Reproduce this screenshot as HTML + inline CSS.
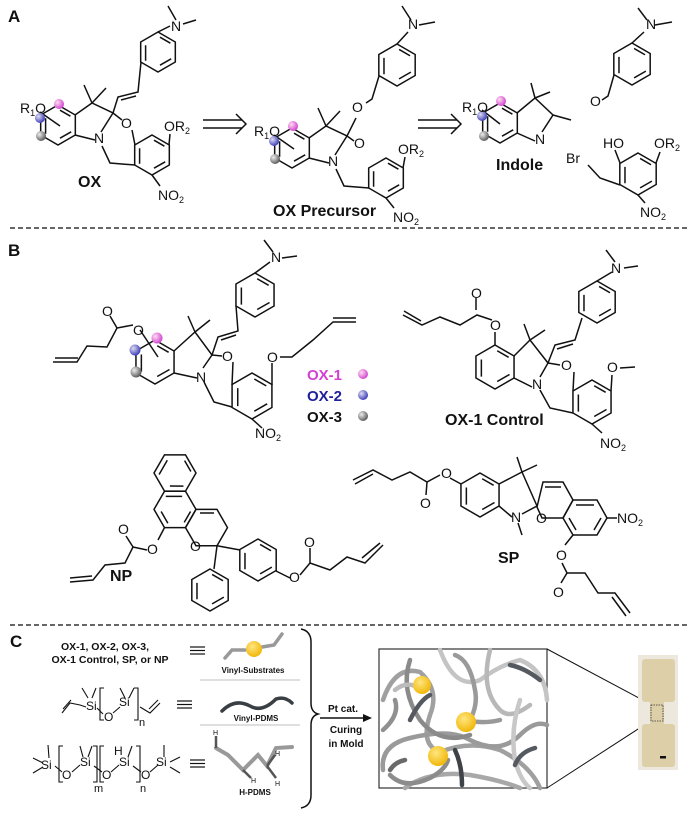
<!DOCTYPE html>
<html><head><meta charset="utf-8"><style>
html,body{margin:0;padding:0;background:#fff}
svg{display:block}
text{font-family:"Liberation Sans",Arial,sans-serif;fill:#111}
.b{font-weight:bold}
</style></head><body>
<svg width="700" height="819" viewBox="0 0 700 819" xmlns="http://www.w3.org/2000/svg">
<defs>
<polygon id="h" points="0,-1 .866,-.5 .866,.5 0,1 -.866,.5 -.866,-.5" fill="none" stroke="#111" stroke-width="1.5" vector-effect="non-scaling-stroke"/>
<g id="a"><use href="#h"/><path d="M.1,-.74 L.62,-.44 M.66,.34 L.1,.66 M-.62,.44 L-.62,-.34" fill="none" stroke="#111" stroke-width="1.5" vector-effect="non-scaling-stroke"/></g>
<radialGradient id="pk" cx=".35" cy=".35" r=".7"><stop offset="0" stop-color="#fde"/><stop offset="1" stop-color="#d040d0"/></radialGradient>
<radialGradient id="bl" cx=".35" cy=".35" r=".7"><stop offset="0" stop-color="#dde"/><stop offset="1" stop-color="#3838b8"/></radialGradient>
<radialGradient id="gy" cx=".35" cy=".35" r=".7"><stop offset="0" stop-color="#eee"/><stop offset="1" stop-color="#555"/></radialGradient>
<radialGradient id="yl" cx=".4" cy=".35" r=".7"><stop offset="0" stop-color="#ffe680"/><stop offset="1" stop-color="#f0b400"/></radialGradient>
</defs>
<g fill="none" stroke="#111" stroke-width="1.5">
<line x1="10" y1="228" x2="690" y2="228" stroke-dasharray="5,3" stroke="#333"/>
<line x1="10" y1="625" x2="690" y2="625" stroke-dasharray="5,3" stroke="#333"/>

<!-- A: OX -->
<use href="#a" transform="translate(58,125) scale(20)"/>
<polyline points="75,115 92,103 113,113 101,132"/><polyline points="95,140 75,135"/>
<line x1="92" y1="103" x2="84" y2="85"/><line x1="92" y1="103" x2="106" y2="88"/>
<line x1="40" y1="112" x2="60" y2="126"/>
<polyline points="113,113 118,97 138,92 141,62"/><line x1="121" y1="100" x2="136" y2="96"/>
<use href="#a" transform="translate(158,52) scale(20)"/>
<line x1="158" y1="32" x2="170" y2="26"/><line x1="176" y1="20" x2="168" y2="6"/><line x1="183" y1="24" x2="196" y2="20"/>
<line x1="113" y1="113" x2="122" y2="120"/><line x1="132" y1="130" x2="135" y2="145"/>
<use href="#a" transform="translate(152,155) scale(20)"/>
<polyline points="102,146 110,163 135,165"/>
<line x1="169" y1="145" x2="170" y2="134"/><line x1="152" y1="175" x2="160" y2="186"/>
<line x1="203" y1="120" x2="242" y2="120"/><line x1="203" y1="128" x2="242" y2="128"/><polyline points="236,114 246,124 236,134"/>

<!-- A: precursor -->
<use href="#a" transform="translate(292,148) scale(20)"/>
<polyline points="309,138 326,126 347,136 335,155"/><polyline points="329,163 309,158"/>
<line x1="326" y1="126" x2="318" y2="108"/><line x1="326" y1="126" x2="340" y2="111"/>
<line x1="347" y1="136" x2="356" y2="118"/>
<line x1="274" y1="135" x2="294" y2="149"/>
<line x1="347" y1="136" x2="354" y2="141"/>
<use href="#a" transform="translate(386,178) scale(20)"/>
<polyline points="336,169 344,186 369,188"/>
<line x1="403" y1="168" x2="405" y2="157"/><line x1="386" y1="198" x2="394" y2="208"/>
<use href="#a" transform="translate(397,65) scale(21)"/>
<polyline points="379,76 372,99 366,103"/>
<line x1="397" y1="44" x2="408" y2="32"/><line x1="411" y1="20" x2="402" y2="6"/><line x1="419" y1="25" x2="435" y2="22"/>
<line x1="418" y1="120" x2="457" y2="120"/><line x1="418" y1="128" x2="457" y2="128"/><polyline points="451,114 461,124 451,134"/>

<!-- A: indole -->
<use href="#a" transform="translate(500,123) scale(20)"/>
<polyline points="517,113 535,98 553,115 542,132"/><polyline points="535,141 517,133"/>
<line x1="535" y1="98" x2="531" y2="83"/><line x1="535" y1="98" x2="550" y2="92"/><line x1="553" y1="115" x2="571" y2="120"/>
<line x1="482" y1="110" x2="500" y2="124"/>
<use href="#a" transform="translate(632,64) scale(21)"/>
<polyline points="614,75 608,96 602,100"/>
<line x1="632" y1="43" x2="644" y2="32"/><line x1="647" y1="20" x2="638" y2="8"/><line x1="655" y1="25" x2="672" y2="22"/>
<use href="#a" transform="translate(638,174) scale(21)"/>
<polyline points="620,185 600,178 588,165"/>
<line x1="620" y1="163" x2="615" y2="150"/><line x1="656" y1="163" x2="660" y2="152"/><line x1="638" y1="195" x2="645" y2="203"/>

<!-- B: OX-1/2/3 -->
<use href="#a" transform="translate(155,362) scale(22)"/>
<polyline points="174,351 195,332 212,355 203,368"/><polyline points="197,378 174,373"/>
<line x1="195" y1="332" x2="188" y2="316"/><line x1="195" y1="332" x2="210" y2="320"/>
<line x1="140" y1="330" x2="158" y2="357"/>
<polyline points="133,325 117,328 107,347 87,346 77,362 53,362"/><line x1="117" y1="328" x2="110" y2="316"/><line x1="78" y1="358" x2="55" y2="358"/>
<polyline points="212,355 218,337 238,331 236,306"/><line x1="221" y1="340" x2="236" y2="335"/>
<use href="#a" transform="translate(255,295) scale(22)"/>
<line x1="255" y1="273" x2="270" y2="262"/><line x1="273" y1="252" x2="264" y2="240"/><line x1="282" y1="258" x2="297" y2="256"/>
<line x1="212" y1="355" x2="222" y2="356"/>
<use href="#a" transform="translate(252,396) scale(23)"/>
<line x1="233" y1="362" x2="232" y2="385"/>
<polyline points="204,382 214,402 232,407"/>
<polyline points="272,385 272,363"/><polyline points="280,357 292,357 313,340 333,322 356,322"/><line x1="333" y1="318" x2="356" y2="318"/>
<line x1="252" y1="419" x2="262" y2="428"/>

<!-- B: OX-1 Control -->
<use href="#a" transform="translate(495,367) scale(22)"/>
<line x1="495" y1="345" x2="495" y2="332"/>
<polyline points="492,320 477,315 460,325 440,317 422,325 403,315"/><line x1="476" y1="310" x2="476" y2="298"/><line x1="421" y1="321" x2="404" y2="311"/>
<polyline points="514,356 530,340 548,363 540,377"/><polyline points="532,387 514,378"/>
<line x1="530" y1="340" x2="524" y2="324"/><line x1="530" y1="340" x2="545" y2="330"/>
<polyline points="548,363 555,345 575,340 582,318"/><line x1="557" y1="349" x2="573" y2="344"/>
<use href="#a" transform="translate(597,302) scale(21)"/>
<line x1="597" y1="281" x2="612" y2="272"/><line x1="615" y1="262" x2="606" y2="250"/><line x1="624" y1="268" x2="638" y2="266"/>
<line x1="548" y1="363" x2="560" y2="365"/>
<use href="#a" transform="translate(592,402) scale(22)"/>
<line x1="574" y1="372" x2="573" y2="391"/>
<polyline points="540,390 550,408 573,413"/>
<polyline points="611,391 612,375"/><line x1="620" y1="368" x2="635" y2="367"/>
<line x1="592" y1="424" x2="602" y2="433"/>

<!-- NP -->
<use href="#a" transform="translate(175,473) rotate(30) scale(21)"/>
<use href="#a" transform="translate(175,509.4) rotate(90) scale(21)"/>
<use href="#h" transform="translate(206.5,527.6) rotate(30) scale(21)"/>
<line x1="200" y1="513" x2="214" y2="513"/>
<line x1="164.5" y1="527.6" x2="158" y2="540"/>
<polyline points="147,550 133,547 125,563 105,565 93,580 70,582"/><line x1="133" y1="547" x2="126" y2="536"/><line x1="92" y1="576" x2="70" y2="578"/>
<line x1="217" y1="545.8" x2="214" y2="569"/>
<use href="#a" transform="translate(210,590) scale(21)"/>
<line x1="217" y1="545.8" x2="240" y2="550"/>
<use href="#a" transform="translate(258,560) scale(21)"/>
<polyline points="276,571 290,578"/><polyline points="300,575 310,563 330,570 347,557 365,563 383,545"/><line x1="310" y1="563" x2="310" y2="548"/><line x1="362" y1="558" x2="380" y2="543"/>

<!-- SP -->
<use href="#a" transform="translate(480,495) scale(22)"/>
<polyline points="461,484 450,478"/>
<polyline points="440,475 427,482 410,472 392,480 373,470 353,480"/><line x1="427" y1="482" x2="426" y2="495"/><line x1="373" y1="474" x2="355" y2="484"/>
<polyline points="499,484 522,472 537,506 522,514"/><polyline points="512,517 499,506"/>
<line x1="522" y1="472" x2="517" y2="457"/><line x1="522" y1="472" x2="537" y2="465"/><line x1="518" y1="523" x2="522" y2="535"/>
<polygon points="537,507 543,482 563,482 573,500 563,518 542,518"/>
<line x1="545" y1="487" x2="561" y2="487"/>
<polygon points="573,500 597,500 607,518 597,535 573,535 563,518"/>
<line x1="576" y1="505" x2="594" y2="505"/><line x1="601" y1="518" x2="594" y2="530"/><line x1="576" y1="530" x2="569" y2="518"/>
<line x1="607" y1="518" x2="617" y2="518"/>
<polyline points="573,535 565,545"/><polyline points="562,563 567,573 585,573 598,593 615,593 630,613"/><line x1="567" y1="573" x2="561" y2="583"/><line x1="612" y1="597" x2="626" y2="616"/>
</g>

<circle cx="59" cy="104" r="5" fill="url(#pk)"/><circle cx="40" cy="118" r="5" fill="url(#bl)"/><circle cx="41" cy="136" r="5" fill="url(#gy)"/>
<circle cx="293" cy="126" r="5" fill="url(#pk)"/><circle cx="274" cy="141" r="5" fill="url(#bl)"/><circle cx="275" cy="159" r="5" fill="url(#gy)"/>
<circle cx="501" cy="101" r="5" fill="url(#pk)"/><circle cx="482" cy="116" r="5" fill="url(#bl)"/><circle cx="484" cy="136" r="5" fill="url(#gy)"/>
<circle cx="157" cy="338" r="5.5" fill="url(#pk)"/><circle cx="135" cy="350" r="5.5" fill="url(#bl)"/><circle cx="136" cy="372" r="5.5" fill="url(#gy)"/>
<circle cx="363" cy="374" r="5" fill="url(#pk)"/><circle cx="363" cy="395" r="5" fill="url(#bl)"/><circle cx="363" cy="416" r="5" fill="url(#gy)"/>

<g font-size="14">
<text x="8" y="22" class="b" font-size="17">A</text>
<text x="8" y="256" class="b" font-size="17">B</text>
<text x="10" y="647" class="b" font-size="17">C</text>
<text x="20" y="113">R<tspan font-size="9" dy="3">1</tspan><tspan dy="-3">O</tspan></text>
<text x="94" y="143">N</text><text x="121" y="128">O</text>
<text x="164" y="131">OR<tspan font-size="9" dy="3">2</tspan></text>
<text x="158" y="200">NO<tspan font-size="9" dy="3">2</tspan></text>
<text x="171" y="31">N</text>
<text x="78" y="187" class="b" font-size="16">OX</text>
<text x="254" y="136">R<tspan font-size="9" dy="3">1</tspan><tspan dy="-3">O</tspan></text>
<text x="328" y="166">N</text><text x="354" y="148">O</text>
<text x="398" y="154">OR<tspan font-size="9" dy="3">2</tspan></text>
<text x="393" y="222">NO<tspan font-size="9" dy="3">2</tspan></text>
<text x="408" y="29">N</text><text x="352" y="112">O</text>
<text x="273" y="216" class="b" font-size="16">OX Precursor</text>
<text x="462" y="112">R<tspan font-size="9" dy="3">1</tspan><tspan dy="-3">O</tspan></text>
<text x="535" y="144">N</text>
<text x="496" y="170" class="b" font-size="16">Indole</text>
<text x="646" y="29">N</text><text x="590" y="106">O</text>
<text x="603" y="148">HO</text><text x="654" y="148">OR<tspan font-size="9" dy="3">2</tspan></text>
<text x="566" y="163">Br</text>
<text x="640" y="217">NO<tspan font-size="9" dy="3">2</tspan></text>

<text x="102" y="316">O</text><text x="133" y="335">O</text>
<text x="196" y="382">N</text><text x="222" y="361">O</text><text x="267" y="362">O</text>
<text x="271" y="262">N</text>
<text x="255" y="438">NO<tspan font-size="9" dy="3">2</tspan></text>
<text x="307" y="380" class="b" font-size="15" style="fill:#d43fd4">OX-1</text>
<text x="307" y="401" class="b" font-size="15" style="fill:#1f1f9a">OX-2</text>
<text x="307" y="422" class="b" font-size="15">OX-3</text>

<text x="471" y="298">O</text><text x="490" y="330">O</text>
<text x="532" y="389">N</text><text x="561" y="370">O</text><text x="607" y="372">O</text>
<text x="611" y="273">N</text>
<text x="445" y="425" class="b" font-size="16">OX-1 Control</text>
<text x="600" y="448">NO<tspan font-size="9" dy="3">2</tspan></text>

<text x="118" y="534">O</text><text x="147" y="554">O</text><text x="190" y="551">O</text>
<text x="304" y="547">O</text><text x="289" y="582">O</text>
<text x="110" y="581" class="b" font-size="16">NP</text>

<text x="441" y="478">O</text><text x="420" y="508">O</text>
<text x="511" y="522">N</text><text x="536" y="523">O</text>
<text x="617" y="523">NO<tspan font-size="9" dy="3">2</tspan></text>
<text x="556" y="560">O</text><text x="553" y="597">O</text>
<text x="498" y="563" class="b" font-size="16">SP</text>
</g>

<!-- C -->
<g font-size="10.5" class="b" text-anchor="middle">
<text x="105" y="650" class="b">OX-1, OX-2, OX-3,</text>
<text x="110" y="663" class="b">OX-1 Control, SP, or NP</text>
</g>
<g stroke="#111" stroke-width="1.2">
<line x1="190" y1="647" x2="205" y2="647"/><line x1="190" y1="650.5" x2="205" y2="650.5"/><line x1="190" y1="654" x2="205" y2="654"/>
<line x1="177" y1="701" x2="192" y2="701"/><line x1="177" y1="704.5" x2="192" y2="704.5"/><line x1="177" y1="708" x2="192" y2="708"/>
<line x1="190" y1="760" x2="205" y2="760"/><line x1="190" y1="763.5" x2="205" y2="763.5"/><line x1="190" y1="767" x2="205" y2="767"/>
<line x1="200" y1="680" x2="300" y2="680" stroke="#ccc"/><line x1="200" y1="725" x2="300" y2="725" stroke="#ccc"/>
</g>
<path d="M225,658 L232,650 L245,650 M262,647 L274,645 L282,634" fill="none" stroke="#999" stroke-width="3.5" stroke-linecap="round"/>
<circle cx="254" cy="649" r="8" fill="url(#yl)"/>
<text x="253" y="673" font-size="8" class="b" text-anchor="middle">Vinyl-Substrates</text>
<path d="M222,711 Q235,698 250,706 Q262,713 276,699 Q285,696 292,703" fill="none" stroke="#3a3f44" stroke-width="3.5" stroke-linecap="round"/>
<text x="256" y="721" font-size="8" class="b" text-anchor="middle">Vinyl-PDMS</text>
<path d="M216,748 L228,755 L243,770 L258,755 L267,766 L276,748 L292,747" fill="none" stroke="#999" stroke-width="4" stroke-linecap="round"/>
<g stroke="#555" stroke-width="2.5"><line x1="216" y1="748" x2="216" y2="736"/><line x1="243" y1="770" x2="251" y2="778"/><line x1="267" y1="766" x2="276" y2="778"/><line x1="267" y1="766" x2="275" y2="755"/></g>
<g font-size="7"><text x="213" y="735">H</text><text x="251" y="783">H</text><text x="275" y="786">H</text><text x="275" y="756">H</text></g>
<text x="255" y="795" font-size="8" class="b" text-anchor="middle">H-PDMS</text>
<g fill="none" stroke="#111" stroke-width="1.1">
<polyline points="62,713 70,703 80,705 86,707"/><line x1="63" y1="709" x2="71" y2="700"/>
<line x1="88" y1="698" x2="82" y2="688"/><line x1="92" y1="698" x2="96" y2="688"/>
<line x1="97" y1="708" x2="103" y2="714"/><line x1="113" y1="713" x2="120" y2="707"/>
<line x1="125" y1="698" x2="120" y2="688"/><line x1="129" y1="698" x2="134" y2="688"/>
<polyline points="140,707 150,713 160,703"/><line x1="149" y1="709" x2="158" y2="700"/>
<path d="M104,688 H100 V720 H104 M134,688 H138 V720 H134"/>
<line x1="43" y1="763" x2="33" y2="758"/><line x1="43" y1="767" x2="33" y2="773"/><line x1="49" y1="758" x2="48" y2="745"/>
<line x1="55" y1="766" x2="62" y2="772"/><line x1="72" y1="772" x2="80" y2="765"/><line x1="83" y1="757" x2="80" y2="746"/><line x1="88" y1="757" x2="92" y2="746"/>
<line x1="94" y1="766" x2="102" y2="772"/><line x1="111" y1="772" x2="119" y2="765"/><line x1="128" y1="757" x2="132" y2="746"/>
<line x1="133" y1="766" x2="141" y2="772"/><line x1="150" y1="772" x2="158" y2="765"/><line x1="164" y1="757" x2="164" y2="745"/><line x1="170" y1="762" x2="180" y2="757"/><line x1="170" y1="767" x2="180" y2="773"/>
<path d="M63,746 H59 V782 H63 M93,746 H97 V782 H93 M104,746 H100 V782 H104 M136,746 H140 V782 H136"/>
</g>
<g font-size="12">
<text x="86" y="710">Si</text><text x="104" y="721">O</text><text x="119" y="706">Si</text><text x="139" y="726" font-size="11">n</text>
<text x="41" y="769">Si</text><text x="62" y="779">O</text><text x="80" y="766">Si</text><text x="94" y="792" font-size="11">m</text>
<text x="102" y="779">O</text><text x="114" y="755">H</text><text x="119" y="766">Si</text><text x="140" y="792" font-size="11">n</text>
<text x="141" y="779">O</text><text x="156" y="766">Si</text>
</g>
<path d="M301,629 Q311,631 311,642 V703 Q311,712 318,714 Q311,716 311,725 V795 Q311,806 301,808" fill="none" stroke="#111" stroke-width="1.5"/>
<line x1="320" y1="718" x2="366" y2="718" stroke="#111" stroke-width="1.5"/><polygon points="372,718 363,714 363,722" fill="#111"/>
<g font-size="10" class="b" text-anchor="middle"><text x="343" y="712" class="b">Pt cat.</text><text x="346" y="733" class="b">Curing</text><text x="346" y="747" class="b">in Mold</text></g>
<rect x="379" y="649" width="168" height="139" fill="#fff" stroke="#333" stroke-width="1.2"/>
<g fill="none" stroke-linecap="round" stroke-width="4.5">
<path d="M383,700 Q395,665 420,672 Q440,690 430,715 Q420,745 440,752 Q470,740 500,750 Q530,765 540,788" stroke="#a0a0a0"/>
<path d="M440,650 Q455,690 480,680 Q500,665 520,660 Q545,670 547,700" stroke="#c4c4c4"/>
<path d="M383,770 Q380,745 410,738 Q450,728 470,740 Q500,755 520,735 Q535,720 547,725" stroke="#9a9a9a"/>
<path d="M410,660 Q400,690 420,720 Q440,745 470,735" stroke="#8a8a8a"/>
<path d="M405,788 Q430,770 470,775 Q500,780 520,788" stroke="#a8a8a8"/>
<path d="M490,650 Q480,690 500,710 Q510,720 530,705" stroke="#b8b8b8"/>
<path d="M383,730 Q400,715 395,700" stroke="#909090"/>
<path d="M455,655 Q470,660 475,690 Q478,705 470,720" stroke="#9a9a9a"/>
<path d="M520,700 Q510,730 515,760 Q520,780 530,788" stroke="#c8c8c8"/>
<path d="M390,775 Q405,790 430,778 Q445,770 448,760" stroke="#8c8c8c"/>
<path d="M410,720 Q420,700 430,695" stroke="#555a60"/>
<path d="M455,750 Q462,765 462,785" stroke="#3e4348"/>
<path d="M510,665 Q525,668 540,680" stroke="#555a60"/>
<path d="M515,765 Q520,752 535,748" stroke="#555a60"/>
<path d="M390,770 Q395,762 405,760" stroke="#6a6a6a"/>
<path d="M395,690 Q405,682 415,686" stroke="#bbb"/>
<path d="M460,718 Q480,725 500,720" stroke="#999"/>
</g>
<circle cx="422" cy="685" r="9" fill="url(#yl)"/>
<circle cx="466" cy="722" r="10" fill="url(#yl)"/>
<circle cx="438" cy="756" r="10" fill="url(#yl)"/>
<line x1="547" y1="649" x2="652" y2="705" stroke="#111" stroke-width="1"/>
<line x1="547" y1="788" x2="652" y2="720" stroke="#111" stroke-width="1"/>
<rect x="638" y="655" width="40" height="115" fill="#ece8de"/>
<rect x="642" y="659" width="33" height="43" rx="3" fill="#ddd0a8"/>
<rect x="650" y="700" width="14" height="26" fill="#ddd0a8"/>
<rect x="642" y="724" width="33" height="43" rx="3" fill="#ddd0a8"/>
<rect x="651" y="705" width="12" height="16" fill="none" stroke="#333" stroke-width=".8" stroke-dasharray="1.5,1"/>
<rect x="660" y="756" width="6" height="2.5" fill="#111"/>
</svg>
</body></html>
